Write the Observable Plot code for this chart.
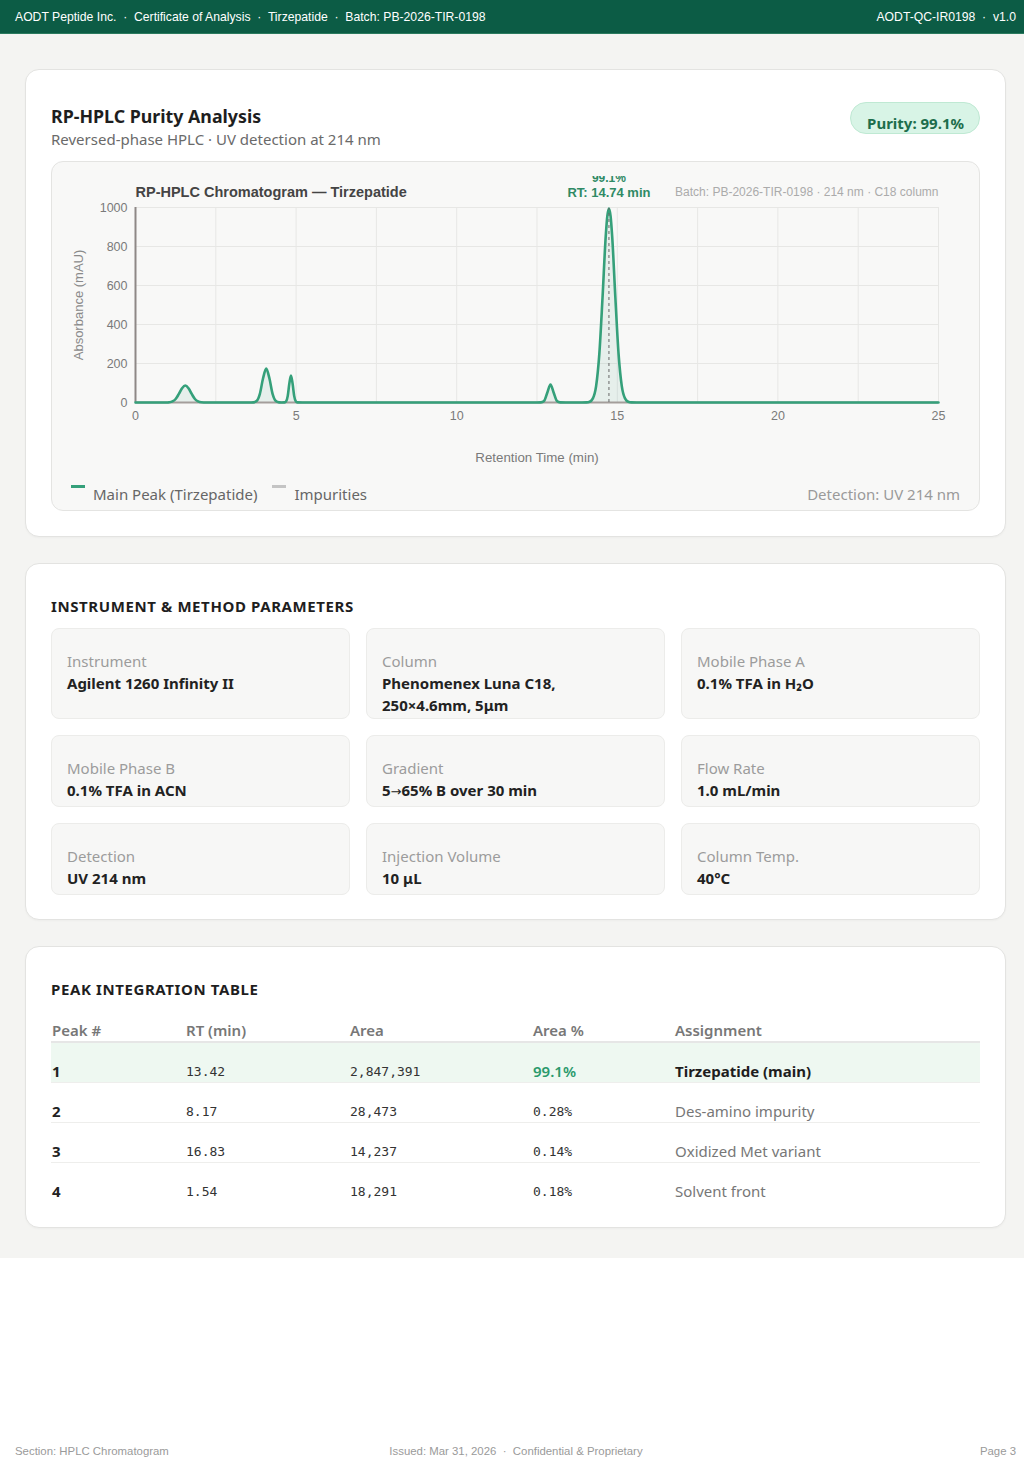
<!DOCTYPE html>
<html>
<head>
<meta charset="utf-8">
<script src="https://cdn.jsdelivr.net/npm/d3@7"></script>
<script src="https://cdn.jsdelivr.net/npm/@observablehq/plot@0.6"></script>
<style>
  * { box-sizing: border-box; }
  html, body { margin: 0; padding: 0; background: #ffffff; }
  body { width: 1024px; height: 1462px; position: relative; font-family: "Noto Sans", sans-serif; color: #222; }
  .topbar { height: 34px; background: #0c5c45; border-bottom: 1px solid #2a7a5e; color: #fff;
    font-family: "Liberation Sans", Arial, sans-serif; font-size: 12.2px; display: flex; align-items: center;
    justify-content: space-between; padding: 1px 8px 0 15px; }
  .page { background: #f4f4f2; padding: 35px 18px 30px 25px; }
  .card { background: #fff; border: 1px solid #e3e3e1; border-radius: 14px; position: relative; width: 981px;
    box-shadow: 0 1px 2px rgba(0,0,0,0.03); }
  .card + .card { margin-top: 26px; }
  .card1 { padding: 34px 25px 25px 25px; }
  .title { font-size: 17.8px; font-weight: 700; line-height: 24px; color: #1e1e1e; }
  .subtitle { font-size: 15px; line-height: 22px; color: #6a6a6a; }
  .badge { position: absolute; top: 32px; right: 25px; height: 32px; padding: 9px 15px 0 16px; border-radius: 16px;
    background: #d8f4e6; border: 1px solid #bfe9d3; color: #1d6e4c; font-weight: 700; font-size: 15px; line-height: 22px; }
  .chartbox { margin-top: 11px; background: #f8f8f7; border: 1px solid #e4e4e2; border-radius: 12px; height: 350px;
    padding-top: 14px; }
  #chart svg { display: block; }
  .legend { display: flex; align-items: center; height: 22px; margin-top: 12px; padding: 0 19px; font-size: 15px; color: #666; }
  .legend .sw { width: 14px; height: 3px; margin-right: 8px; position: relative; top: -8px; }
  .legend .item { display: flex; align-items: center; margin-right: 15px; }
  .legend .right { margin-left: auto; color: #9a9a9a; }
  .card2 { padding: 31px 25px 24px 25px; }
  .sectitle { font-size: 15px; font-weight: 700; line-height: 22px; letter-spacing: 0.6px; color: #1e1e1e; }
  .grid { margin-top: 11px; display: grid; grid-template-columns: 299px 299px 299px; grid-template-rows: 91px 72px 72px; gap: 16px; }
  .cell { background: #f7f7f6; border: 1px solid #ececea; border-radius: 8px; padding: 21px 15px 0 15px; }
  .cell .lab { font-size: 15px; line-height: 22px; color: #9c9c9c; }
  .cell .val { font-size: 15px; line-height: 22px; font-weight: 700; color: #222; }
  .cell .arrow { font-family: "DejaVu Sans", sans-serif; font-weight: 400; font-size: 13px; }
  .card3 { padding: 31px 25px 25px 25px; }
  table { margin-top: 19px; width: 929px; border-collapse: collapse; table-layout: fixed; }
  th { text-align: left; font-size: 15px; font-weight: 600; color: #777; line-height: 22px; padding: 0 0 0 1px;
    border-bottom: 2px solid #e6e6e6; }
  td { font-size: 15px; line-height: 21px; padding: 18px 0 0 1px; border-bottom: 1px solid #eeeeec; color: #777; }
  tr:last-child td { border-bottom: none; }
  tr.main td { background: #eef8f1; }
  td.no { font-weight: 700; color: #222; }
  td.mono { font-family: "DejaVu Sans Mono", monospace; font-size: 13px; color: #333; }
  td.pct-main { color: #2a9a6c; font-weight: 600; }
  td.asg-main { color: #1e1e1e; font-weight: 700; }
  .footer { position: absolute; left: 0; right: 0; top: 1445px; height: 16px; font-family: "Liberation Sans", Arial, sans-serif;
    font-size: 11.4px; color: #9a9a9a; }
  .footer span { position: absolute; top: 0; }
</style>
</head>
<body>
<div class="topbar">
  <span>AODT Peptide Inc. &nbsp;·&nbsp; Certificate of Analysis &nbsp;·&nbsp; Tirzepatide &nbsp;·&nbsp; Batch: PB-2026-TIR-0198</span>
  <span>AODT-QC-IR0198 &nbsp;·&nbsp; v1.0</span>
</div>

<div class="page">
  <div class="card card1">
    <div class="title">RP-HPLC Purity Analysis</div>
    <div class="subtitle">Reversed-phase HPLC · UV detection at 214 nm</div>
    <div class="badge">Purity: 99.1%</div>
    <div class="chartbox">
      <div id="chart"></div>
      <div class="legend">
        <div class="item"><span class="sw" style="background:#35a07a"></span>Main Peak (Tirzepatide)</div>
        <div class="item"><span class="sw" style="background:#c4c4c4"></span>Impurities</div>
        <div class="right">Detection: UV 214 nm</div>
      </div>
    </div>
  </div>

  <div class="card card2">
    <div class="sectitle">INSTRUMENT &amp; METHOD PARAMETERS</div>
    <div class="grid" id="params"></div>
  </div>

  <div class="card card3">
    <div class="sectitle">PEAK INTEGRATION TABLE</div>
    <table id="peaks">
      <colgroup><col style="width:134px"><col style="width:164px"><col style="width:183px"><col style="width:142px"><col></colgroup>
      <thead><tr><th>Peak #</th><th>RT (min)</th><th>Area</th><th>Area %</th><th>Assignment</th></tr></thead>
      <tbody></tbody>
    </table>
  </div>
</div>

<div class="footer">
  <span style="left:15px">Section: HPLC Chromatogram</span>
  <span style="left:0;right:0;text-align:center;padding-left:8px">Issued: Mar 31, 2026 &nbsp;·&nbsp; Confidential &amp; Proprietary</span>
  <span style="right:8px">Page 3</span>
</div>

<script>
// Chromatogram trace: retention time (min) and absorbance (mAU)
const traceTime = [
  0, 1.0, 1.05, 1.15, 1.25, 1.35, 1.45, 1.55, 1.65, 1.75, 1.85, 1.95, 2.05, 2.2,
  3.6, 3.67, 3.77, 3.87, 3.97, 4.07, 4.17, 4.27, 4.37, 4.47, 4.55,
  4.64, 4.69, 4.74, 4.79, 4.84, 4.89, 4.94, 4.99, 5.04, 5.2,
  12.5, 12.62, 12.72, 12.82, 12.92, 13.02, 13.12, 13.22, 13.4,
  13.9, 14.04, 14.14, 14.24, 14.34, 14.44, 14.54, 14.64, 14.69, 14.74, 14.79, 14.84, 14.94, 15.04, 15.14, 15.24, 15.34, 15.44, 15.6,
  25
];
const traceAbs = [
  0, 0, 1, 5.5, 18, 44, 73, 87, 73, 44, 18, 5.5, 1, 0,
  0, 0.7, 7.6, 43, 123, 174, 123, 43, 7.6, 0.7, 0,
  0.5, 6, 34, 98, 138, 98, 34, 6, 0.5, 0,
  0, 0.4, 7.8, 50, 92, 50, 7.8, 0.4, 0,
  0, 0.5, 3.8, 21, 84, 248, 537, 853, 957, 995, 957, 853, 537, 248, 84, 21, 3.8, 0.5, 0,
  0
];

// Main peak annotation
const mainPeakRT = 14.74;
const mainPeakHeight = 995;
const mainPeakLabel = "99.1%";

// Axis ticks
const xTickLabels = [0, 5, 10, 15, 20, 25];
const xGridLines = [0, 2.5, 5, 7.5, 10, 12.5, 15, 17.5, 20, 22.5, 25];
const yTickLabels = [0, 200, 400, 600, 800, 1000];

// Instrument & method parameters
const paramLabels = ["Instrument", "Column", "Mobile Phase A", "Mobile Phase B", "Gradient", "Flow Rate", "Detection", "Injection Volume", "Column Temp."];
const paramValues = ["Agilent 1260 Infinity II", "Phenomenex Luna C18,\n250×4.6mm, 5μm", "0.1% TFA in H₂O", "0.1% TFA in ACN", "5→65% B over 30 min", "1.0 mL/min", "UV 214 nm", "10 μL", "40°C"];

// Peak integration table
const peakNo = [1, 2, 3, 4];
const peakRT = ["13.42", "8.17", "16.83", "1.54"];
const peakArea = ["2,847,391", "28,473", "14,237", "18,291"];
const peakAreaPct = ["99.1%", "0.28%", "0.14%", "0.18%"];
const peakAssignment = ["Tirzepatide (main)", "Des-amino impurity", "Oxidized Met variant", "Solvent front"];

const trace = traceTime.map((t, i) => ({t, a: traceAbs[i]}));
const mainPeak = [{rt: mainPeakRT, h: mainPeakHeight}];
const green = "#35a07a";

const chart = Plot.plot({
  width: 927,
  height: 295,
  marginLeft: 83,
  marginRight: 41,
  marginTop: 31,
  marginBottom: 69,
  x: {domain: [0, 25]},
  y: {domain: [0, 1000]},
  style: {background: "transparent", fontFamily: "'Liberation Sans', Arial, sans-serif", color: "#7a7a7a", overflow: "hidden"},
  marks: [
    Plot.gridX(xGridLines, {stroke: "#e7e7e5", strokeOpacity: 1}),
    Plot.gridY(yTickLabels, {stroke: "#e7e7e5", strokeOpacity: 1}),
    Plot.areaY(trace, {x: "t", y: "a", curve: "monotone-x", fill: green, fillOpacity: 0.09}),
    Plot.ruleY([0], {stroke: "#a49e9b", strokeWidth: 2}),
    Plot.ruleX([0], {stroke: "#8e8886", strokeWidth: 2}),
    Plot.lineY(trace, {x: "t", y: "a", curve: "monotone-x", stroke: green, strokeWidth: 2.6}),
    Plot.ruleX(mainPeak, {x: "rt", y1: () => 0, y2: "h", stroke: "#666", strokeWidth: 1, strokeDasharray: "3,3"}),
    Plot.axisX({ticks: xTickLabels, tickSize: 0, tickPadding: 9, fontSize: 12.5, label: null, tickFormat: d => String(d)}),
    Plot.axisY({ticks: yTickLabels, tickSize: 0, tickPadding: 8, fontSize: 12.5, label: null, tickFormat: d => String(d)}),
    Plot.text(["Absorbance (mAU)"], {frameAnchor: "left", dx: -57, rotate: -90, textAnchor: "middle", lineAnchor: "middle", fontSize: 13, fill: "#8a8a8a"}),
    Plot.text(["Retention Time (min)"], {frameAnchor: "bottom", dy: 55, lineAnchor: "middle", fontSize: 13.3, fill: "#7a7a7a"}),
    Plot.text(["RP-HPLC Chromatogram — Tirzepatide"], {frameAnchor: "top-left", dy: -15, textAnchor: "start", lineAnchor: "middle", fontSize: 14.5, fontWeight: "bold", fill: "#444"}),
    Plot.text(["Batch: PB-2026-TIR-0198 · 214 nm · C18 column"], {frameAnchor: "top-right", dy: -15, textAnchor: "end", lineAnchor: "middle", fontSize: 12, fill: "#ababab"}),
    Plot.text(mainPeak, {x: "rt", frameAnchor: "top", dy: -15, lineAnchor: "middle", text: d => `RT: ${d.rt} min`, fontSize: 13, fontWeight: "bold", fill: "#2f8a65"}),
    Plot.text(mainPeak, {x: "rt", frameAnchor: "top", dy: -29, lineAnchor: "middle", text: () => mainPeakLabel, fontSize: 12, fontWeight: "bold", fill: "#2f8a65"})
  ]
});
document.getElementById("chart").append(chart);

// Parameter cells
const grid = document.getElementById("params");
paramLabels.forEach((lab, i) => {
  const cell = document.createElement("div");
  cell.className = "cell";
  const l = document.createElement("div"); l.className = "lab"; l.textContent = lab;
  const v = document.createElement("div"); v.className = "val";
  paramValues[i].split("\n").forEach((line, j) => {
    if (j) v.append(document.createElement("br"));
    line.split("→").forEach((part, k) => {
      if (k) { const a = document.createElement("span"); a.className = "arrow"; a.textContent = "→"; v.append(a); }
      v.append(document.createTextNode(part));
    });
  });
  cell.append(l, v);
  grid.append(cell);
});

// Peak table rows
const tbody = document.querySelector("#peaks tbody");
peakNo.forEach((n, i) => {
  const tr = document.createElement("tr");
  if (i === 0) tr.className = "main";
  const cells = [
    [String(n), "no"],
    [peakRT[i], "mono"],
    [peakArea[i], "mono"],
    [peakAreaPct[i], i === 0 ? "pct-main" : "mono"],
    [peakAssignment[i], i === 0 ? "asg-main" : ""]
  ];
  cells.forEach(([txt, cls]) => {
    const td = document.createElement("td");
    if (cls) td.className = cls;
    td.textContent = txt;
    tr.append(td);
  });
  tbody.append(tr);
});
</script>
</body>
</html>
